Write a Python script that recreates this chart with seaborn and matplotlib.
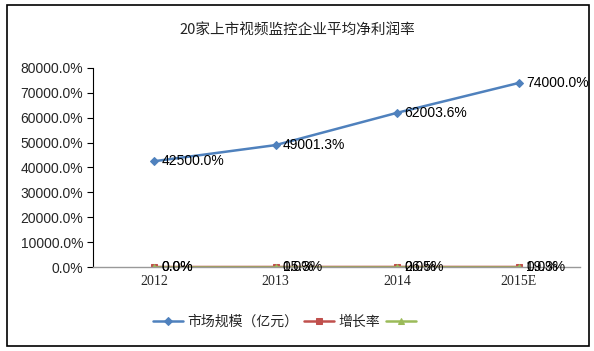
import numpy as np
import pandas as pd
import matplotlib
matplotlib.use("Agg")
import matplotlib.pyplot as plt
import seaborn as sns
from matplotlib.patches import Rectangle
from matplotlib.ticker import FuncFormatter

years = ["2012", "2013", "2014", "2015E"]
market_size = [425.0, 490.013, 620.036, 740.0]
growth = [0.0, 0.153, 0.265, 0.193]
third = [0.0, 0.0, 0.0, 0.0]
series_names = ["市场规模（亿元）", "增长率", " "]

sns.set_style("white")
plt.rcParams["font.family"] = ["Noto Sans CJK SC", "DejaVu Sans"]

df = pd.DataFrame({
    "pos": list(range(len(years))) * 3,
    "value": market_size + growth + third,
    "series": [series_names[0]] * 4 + [series_names[1]] * 4 + [series_names[2]] * 4,
})

fig = plt.figure(figsize=(5.94, 3.51), dpi=100)
ax = fig.add_axes([0.1566, 0.2393, 0.8195, 0.567])

colors = ["#4F81BD", "#C0504D", "#9BBB59"]
markers = ["D", "s", "^"]
sizes = [4, 5, 5]
for name, c, m, ms in zip(series_names, colors, markers, sizes):
    sub = df[df["series"] == name]
    sns.lineplot(data=sub, x="pos", y="value", ax=ax, color=c, marker=m,
                 markersize=ms, markeredgecolor=c, linewidth=1.8, label=name)
    for x, y in zip(sub["pos"], sub["value"]):
        ax.text(x + 0.06, y, f"{y * 100:.1f}%", fontsize=10, va="center", ha="left",
                family="Liberation Sans", color="black")

ax.set_xlim(-0.5, 3.5)
ax.set_ylim(0, 800)
ax.set_yticks(np.arange(0, 801, 100))
ax.yaxis.set_major_formatter(FuncFormatter(lambda v, p: f"{v * 100:.1f}%"))
ax.set_xticks(range(len(years)))
ax.set_xticklabels(years, family="Liberation Serif", fontsize=10)
for t in ax.get_yticklabels():
    t.set_family("Liberation Sans")
    t.set_fontsize(10)
ax.tick_params(axis="y", direction="out", length=4, width=0.8, color="black", pad=3, left=True)
ax.tick_params(axis="x", length=0, pad=6)
ax.set_xlabel("")
ax.set_ylabel("")

for s in ["top", "right"]:
    ax.spines[s].set_visible(False)
ax.spines["left"].set_color("black")
ax.spines["left"].set_linewidth(0.8)
ax.spines["bottom"].set_color("#999999")
ax.spines["bottom"].set_linewidth(1.0)

fig.text(0.5, 0.915, "20家上市视频监控企业平均净利润率", ha="center", va="center",
         fontsize=10.5, color="#222222")

leg = ax.legend(loc="center", bbox_to_anchor=(0.485, 0.083), bbox_transform=fig.transFigure,
                ncol=3, frameon=False, fontsize=10, handlelength=2.2, handletextpad=0.3,
                columnspacing=0.4)

fig.patches.append(Rectangle((0.012, 0.015), 0.98, 0.97, transform=fig.transFigure,
                             fill=False, edgecolor="black", linewidth=1.2))

fig.savefig("out.png", dpi=100)
